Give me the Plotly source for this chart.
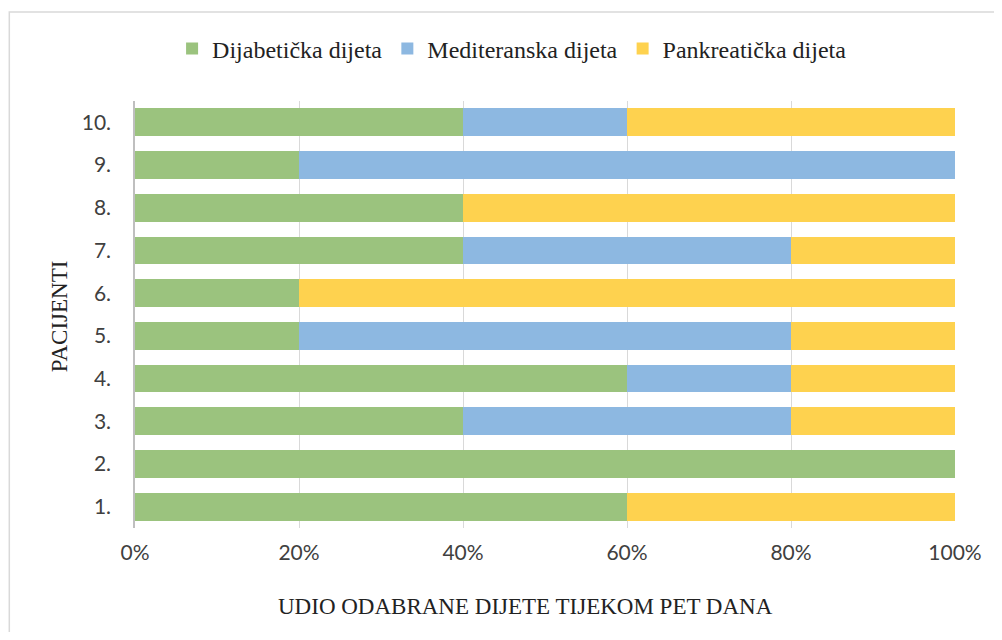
import plotly.graph_objects as go

patients = ["1.", "2.", "3.", "4.", "5.", "6.", "7.", "8.", "9.", "10."]
dijabeticka = [60, 100, 40, 60, 20, 20, 40, 40, 20, 40]
mediteranska = [0, 0, 40, 20, 60, 0, 40, 0, 80, 20]
pankreaticka = [40, 0, 20, 20, 20, 80, 20, 60, 0, 40]
x_ticks = [0, 20, 40, 60, 80, 100]
x_tick_text = [f"{v}%" for v in x_ticks]

series = [
    ("Dijabetička dijeta", dijabeticka, "#9bc37e"),
    ("Mediteranska dijeta", mediteranska, "#8db8e1"),
    ("Pankreatička dijeta", pankreaticka, "#fed24f"),
]

fig = go.Figure()
for name, vals, col in series:
    fig.add_trace(go.Bar(y=patients, x=vals, name=name, orientation="h",
                         marker=dict(color=col, line=dict(width=0))))

OFF = 8  # page body margin
W, H = 1002 - 2 * OFF, 640 - 2 * OFF
SL, SR, ST, SB = 135, 957, 101, 528
L, T = SL - OFF, ST - OFF
R = W - (SR - OFF)
B = H - (SB - OFF)
pw, ph = SR - SL, SB - ST

def px(xs):
    return (xs - SL) / pw

def py(ys):
    return (SB - ys) / ph

serif = "Liberation Serif"
sans = "Lato"

fig.update_layout(
    width=W, height=H, barmode="stack", bargap=0.35,
    margin=dict(l=L, r=R, t=T, b=B),
    paper_bgcolor="white", plot_bgcolor="white",
    font=dict(family=serif, color="#222"),
    showlegend=True,
    legend=dict(orientation="h", x=px(513), xanchor="center",
                y=py(49), yanchor="middle",
                traceorder="normal", itemwidth=30),
    legend_font_family=serif,
    legend_font_size=24,
    legend_font_color="#222",
    xaxis=dict(range=[0, 100], tickvals=x_ticks, ticktext=x_tick_text,
               showgrid=True, gridcolor="#d9d9d9", gridwidth=1.3,
               zeroline=False, showline=False,
               tickfont=dict(family=sans, size=21, color="#404040"),
               ticks="outside", ticklen=6, tickcolor="rgba(0,0,0,0)"),
    yaxis=dict(showgrid=False, zeroline=False, showline=True,
               linecolor="#bfbfbf", linewidth=1.5,
               tickfont=dict(family=sans, size=21, color="#404040"),
               ticks="outside", ticklen=18, tickcolor="rgba(0,0,0,0)"),
    annotations=[
        dict(text="UDIO ODABRANE DIJETE TIJEKOM PET DANA", xref="paper", yref="paper",
             x=px(526), y=py(606), xanchor="center", yanchor="middle",
             showarrow=False, font=dict(family=serif, size=23, color="#222")),
        dict(text="PACIJENTI", xref="paper", yref="paper", textangle=-90,
             x=px(59), y=py(316), xanchor="center", yanchor="middle",
             showarrow=False, font=dict(family=serif, size=23, color="#222")),
    ],
    shapes=[dict(type="rect", xref="paper", yref="paper",
                 x0=px(9), x1=px(1000), y0=py(660), y1=py(12),
                 line=dict(color="#d9d9d9", width=1.5), layer="below")],
)

fig.write_html("out.html")
